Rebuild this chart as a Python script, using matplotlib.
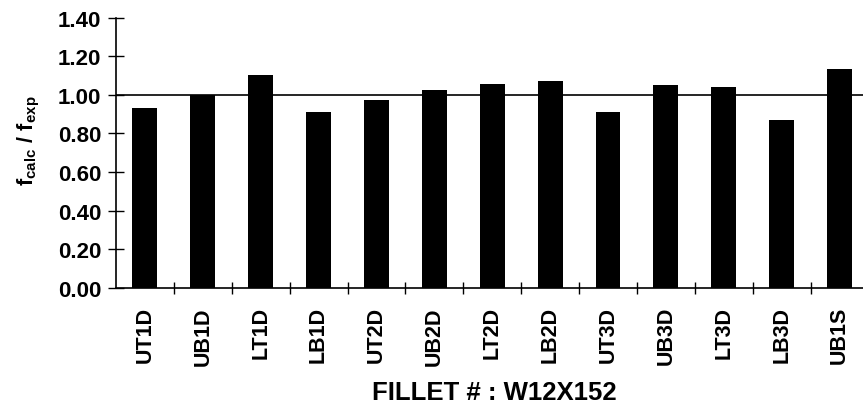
import numpy as np
import matplotlib
matplotlib.use("Agg")
import matplotlib.pyplot as plt

plt.rcParams['font.family'] = ['Liberation Sans', 'DejaVu Sans']
plt.rcParams['mathtext.fontset'] = 'custom'
plt.rcParams['mathtext.rm'] = 'Liberation Sans:bold'
plt.rcParams['mathtext.it'] = 'Liberation Sans:bold'
plt.rcParams['mathtext.bf'] = 'Liberation Sans:bold'

fillets = ["UT1D", "UB1D", "LT1D", "LB1D", "UT2D", "UB2D", "LT2D",
           "LB2D", "UT3D", "UB3D", "LT3D", "LB3D", "UB1S"]
ratios = [0.93, 1.00, 1.10, 0.91, 0.975, 1.027, 1.056,
          1.073, 0.91, 1.049, 1.04, 0.87, 1.135]
yticks = [0.0, 0.2, 0.4, 0.6, 0.8, 1.0, 1.2, 1.4]

W, H = 863, 414
fig = plt.figure(figsize=(W / 100, H / 100), dpi=100)
# axes runs a little past the right edge, as in the scanned figure
ax = fig.add_axes([116 / W, 1 - 289 / H, 752.5 / W, 270.5 / H])

x = np.arange(len(fillets))
ax.bar(x, ratios, width=0.43, color="black", zorder=3)
ax.axhline(1.0, color="black", lw=1.2, zorder=2)

ax.set_xlim(-0.5, len(fillets) - 0.5)
ax.set_ylim(0, 1.4)
ax.set_yticks(yticks)
ax.set_yticklabels([f"{v:.2f}" for v in yticks], fontsize=16, fontweight="bold")

# category ticks sit between the bars, labels under the bars
ax.set_xticks(x[:-1] + 0.5)
ax.set_xticklabels([])
ax.set_xticks(x, minor=True)
ax.set_xticklabels(fillets, minor=True, rotation=90, fontsize=15.5, fontweight="bold")
ax.tick_params(axis="x", which="minor", length=0, pad=13)
ax.tick_params(axis="x", which="major", direction="inout", length=9, width=1)
ax.tick_params(axis="y", direction="inout", length=11, width=1, pad=5)

for side in ["top", "right"]:
    ax.spines[side].set_visible(False)
ax.spines["left"].set_linewidth(1.2)
ax.spines["bottom"].set_linewidth(1.2)

ax.set_ylabel(r"$\mathrm{f_{calc}\ /\ f_{exp}}$", fontsize=15.5)
ax.yaxis.set_label_coords(-0.116, 0.55)
ax.yaxis.label.set_va("center")

ax.set_xlabel("FILLET # : W12X152", fontsize=18.5, fontweight="bold")
ax.xaxis.set_label_coords(0.503, -0.384)
ax.xaxis.label.set_va("center")

fig.savefig("out.png", dpi=100)
